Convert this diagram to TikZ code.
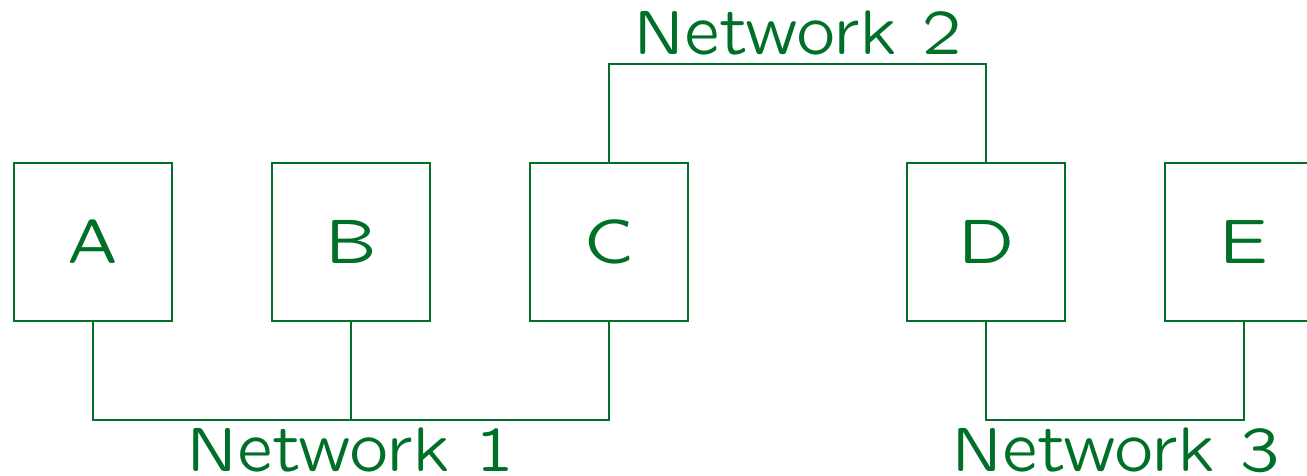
\documentclass[tikz,border=0pt]{standalone}
\definecolor{netgreen}{RGB}{0,112,40}
\font\netfont=cmssq8 at 63pt
\begin{document}
\begin{tikzpicture}[x=1pt,y=-1pt,
  box/.style={draw=netgreen,line width=1.9pt,minimum width=158pt,minimum height=158pt,inner sep=0pt,
    text=netgreen,font=\netfont},
  lbl/.style={text=netgreen,anchor=base,inner sep=0pt,font=\netfont},
  wire/.style={draw=netgreen,line width=1.9pt}]
\useasboundingbox (0,0) rectangle (1307,476);
\clip (0,0) rectangle (1307,476);
\node[box] (A) at (93,242) {A};
\node[box] (B) at (351,242) {B};
\node[box] (C) at (609,242) {C};
\node[box] (D) at (986,242) {D};
\node[box] (E) at (1244,242) {E};
\coordinate (n1) at (351,420);
\coordinate (n2) at (798,64);
\coordinate (n3) at (1115,420);
\draw[wire] (A.south) |- (n1) -| (C.south);
\draw[wire] (B.south) -- (n1);
\draw[wire] (C.north) |- (n2) -| (D.north);
\draw[wire] (D.south) |- (n3) -| (E.south);
\node[lbl] (t1) at (351,471) {Network 1};
\node[lbl] (t2) at (798,55) {Network 2};
\node[lbl] (t3) at (1116,471) {Network 3};
\end{tikzpicture}
\end{document}
